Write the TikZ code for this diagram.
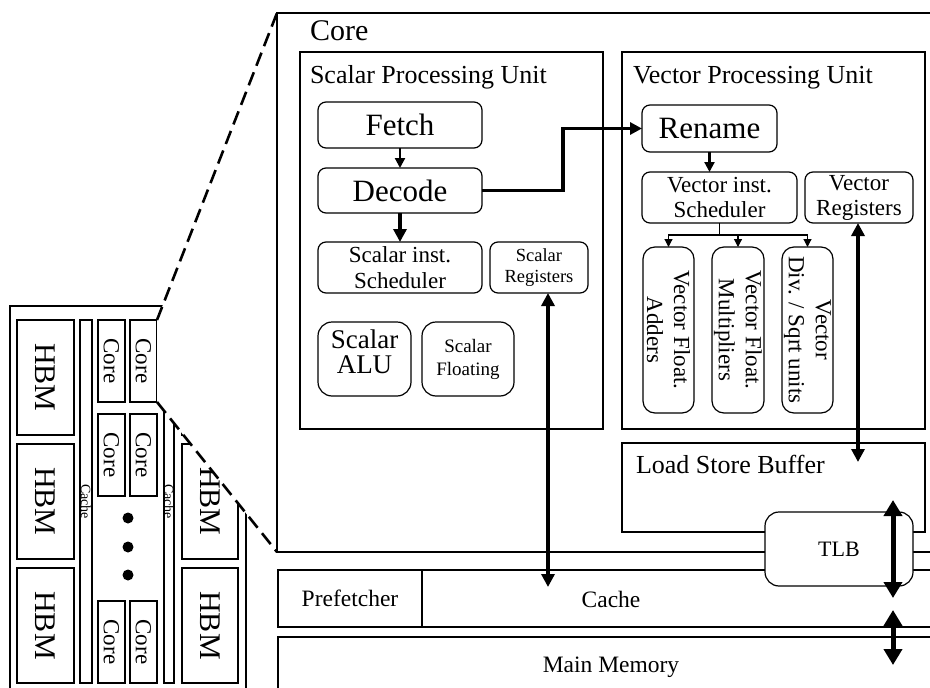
\documentclass[tikz,border=0pt]{standalone}
\usepackage{fontspec}
\setmainfont{Liberation Serif}
\usetikzlibrary{arrows.meta}
\newcommand\fsz[2]{\fontsize{#1}{#2}\selectfont}
\tikzset{
  blk/.style={draw, line width=1.2pt, fill=white, inner sep=0pt, outer sep=0pt,
              align=center, anchor=north west},
  rblk/.style={blk, rounded corners=#1},
  rblk/.default=8pt,
  txt/.style={inner sep=0pt, outer sep=0pt, align=center},
  thinarr/.style={line width=1.2pt, -{Triangle[length=8pt,width=8pt]}},
  midarr/.style={line width=2.2pt, -{Triangle[length=10pt,width=10pt]}},
  bigarr/.style={line width=3.6pt, -{Triangle[length=13pt,width=13pt]}},
  bothbig/.style={line width=3.6pt, {Triangle[length=13pt,width=13pt]}-{Triangle[length=13pt,width=13pt]}},
  bothhuge/.style={line width=5pt, {Triangle[length=16pt,width=18pt]}-{Triangle[length=16pt,width=18pt]}},
  zoomline/.style={line width=2.6pt, dash pattern=on 14pt off 7pt},
}
\begin{document}
\begin{tikzpicture}[x=1pt, y=-1pt]
\useasboundingbox (0,0) rectangle (930,688);
\clip (0,0) rectangle (930,688);

% ---------- chip overview ----------
\node[blk, minimum width=236, minimum height=400] (chip) at (10,306) {};
\foreach \i/\y in {1/320,2/444,3/568} {
  \node[blk, minimum width=57, minimum height=115] (hbmL\i) at (17,\y) {};
  \node[txt, rotate=-90, font=\fsz{30}{30}] (hbmLt\i) at (hbmL\i.center) {HBM};
  \node[blk, minimum width=56, minimum height=115] (hbmR\i) at (182,\y) {};
  \node[txt, rotate=-90, font=\fsz{30}{30}] (hbmRt\i) at (hbmR\i.center) {HBM};
}
\node[blk, minimum width=12, minimum height=363] (cbarL) at (80,320) {};
\node[txt, rotate=-90, font=\fsz{14}{14}] (cbarLt) at (cbarL.center) {Cache};
\node[blk, minimum width=10, minimum height=363] (cbarR) at (164,320) {};
\node[txt, rotate=-90, font=\fsz{14}{14}] (cbarRt) at (cbarR.center) {Cache};
\foreach \n/\x/\y in {A1/98/320, A2/130/320, B1/98/414, B2/130/414, C1/98/601, C2/130/601} {
  \node[blk, minimum width=27, minimum height=82] (c\n) at (\x,\y) {};
  \node[txt, rotate=-90, font=\fsz{23}{23}] (ct\n) at (c\n.center) {Core};
}
\foreach \i/\y in {1/518,2/547,3/575}
  \node[circle, fill, inner sep=0pt, minimum size=11pt] (dot\i) at (128,\y) {};

% ---------- zoom cone ----------
\fill[white] (cA2.north east) -- (277,13) -- (277,552) -- (cA2.south east) -- cycle;

% ---------- core detail ----------
\node[blk, minimum width=680, minimum height=539] (core) at (277,13) {};
\node[txt, anchor=base west, font=\fsz{30}{30}] (corelbl) at (310,40) {Core};

\draw[zoomline] (cA2.north east) -- (core.north west);
\draw[zoomline] (cA2.south east) -- (core.south west);

% scalar processing unit
\node[blk, minimum width=303, minimum height=377] (spu) at (300,52) {};
\node[txt, anchor=base west, font=\fsz{26}{26}] (spulbl) at (310,83) {Scalar Processing Unit};
\node[rblk, minimum width=164, minimum height=46, font=\fsz{31}{31}] (fetch) at (318,102) {Fetch};
\node[rblk, minimum width=164, minimum height=45, font=\fsz{31}{31}] (decode) at (318,168) {Decode};
\node[rblk, minimum width=164, minimum height=51, font=\fsz{23}{26}] (ssched) at (318,242) {Scalar inst.\\Scheduler};
\node[rblk, minimum width=98, minimum height=51, font=\fsz{18.5}{21}] (sregs) at (490,242) {Scalar\\Registers};
\node[rblk=14pt, minimum width=93, minimum height=74] (salu) at (318,322) {};
\node[txt, font=\fsz{27}{25}] (salut) at (364.5,352) {Scalar\\ALU};
\node[rblk=14pt, minimum width=92, minimum height=74, font=\fsz{19}{23}] (sfp) at (422,322) {Scalar\\Floating};

% vector processing unit
\node[blk, minimum width=303, minimum height=377] (vpu) at (622,52) {};
\node[txt, anchor=base west, font=\fsz{26}{26}] (vpulbl) at (633,83) {Vector Processing Unit};
\node[rblk, minimum width=135, minimum height=47, font=\fsz{31}{31}] (rename) at (642,105) {Rename};
\node[rblk, minimum width=155, minimum height=51, font=\fsz{23}{25}] (vsched) at (642,172) {Vector inst.\\Scheduler};
\node[rblk, minimum width=108, minimum height=51, font=\fsz{23}{25}] (vregs) at (805,172) {Vector\\Registers};
\node[rblk=12pt, minimum width=51, minimum height=166] (vfa) at (643,247) {};
\node[rblk=12pt, minimum width=52, minimum height=166] (vfm) at (712,247) {};
\node[rblk=12pt, minimum width=51, minimum height=166] (vds) at (782,247) {};
\node[txt, rotate=-90, font=\fsz{23}{27}] (vfat) at (vfa.center) {Vector Float.\\Adders};
\node[txt, rotate=-90, font=\fsz{23}{27}] (vfmt) at (vfm.center) {Vector Float.\\Multipliers};
\node[txt, rotate=-90, font=\fsz{23}{27}] (vdst) at (vds.center) {Vector\\Div. / Sqrt units};

% load/store path
\node[blk, minimum width=303, minimum height=89] (lsb) at (622,443) {};
\node[txt, anchor=base west, font=\fsz{26}{26}] (lsblbl) at (636,473) {Load Store Buffer};

% memory hierarchy
\node[blk, minimum width=680, minimum height=57] (cache) at (278,570) {};
\node[blk, minimum width=144, minimum height=57, font=\fsz{23.5}{23.5}] (pref) at (278,570) {Prefetcher};
\node[txt, font=\fsz{23.5}{23.5}] (cachet) at (611,599) {Cache};
\node[blk, minimum width=680, minimum height=80] (mem) at (278,637) {};
\node[txt, font=\fsz{23.5}{23.5}] (memt) at (611,667) {Main Memory};
\node[rblk=14pt, minimum width=148, minimum height=74, font=\fsz{22}{22}] (tlb) at (765,512) {TLB};

% ---------- connectors ----------
\draw[midarr] (fetch) -- (decode);
\draw[bigarr] (decode) -- (ssched);
\draw[line width=3.8pt, -{Triangle[length=12pt,width=12pt]}]
  (decode.east) -- ++(81,0) |- (rename.west);
\draw[midarr] (rename.south) -- (rename.south |- vsched.north);
\draw[line width=1.2pt] (vsched.south) -- ++(0,12) coordinate (fork);
\draw[thinarr] (fork) -| (vfa.north);
\draw[thinarr] (fork) -| (vfm.north);
\draw[thinarr] (fork) -| (vds.north);

\coordinate (sdrop) at (548,587);
\draw[bothbig] (sregs.south -| sdrop) -- (sdrop);
\coordinate (vdrop) at (858,462);
\draw[bothbig] (vregs.south -| vdrop) -- (vdrop);

\coordinate (tlbtop) at (893,500);
\coordinate (tlbbot) at (893,598);
\draw[bothhuge] (tlbtop) -- (tlbbot);
\coordinate (memtop) at (893,610);
\coordinate (membot) at (893,665);
\draw[bothhuge] (memtop) -- (membot);
\end{tikzpicture}
\end{document}
